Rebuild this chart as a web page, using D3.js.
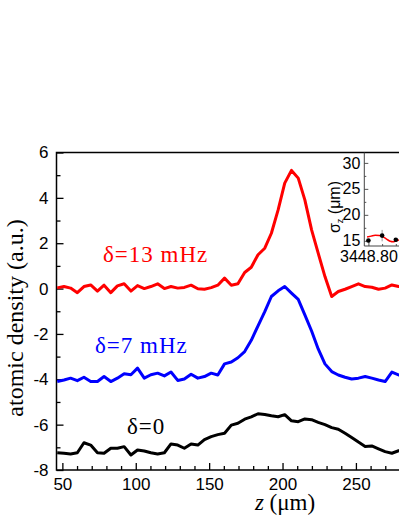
<!DOCTYPE html>
<html>
<head>
<meta charset="utf-8">
<script src="https://cdn.jsdelivr.net/npm/d3@7"></script>
<style>
  body { margin: 0; background: #fff; }
  svg { display: block; }
</style>
</head>
<body>
<div class="graph"></div>
<script>
// axial position (um), shared by the three profiles
var zPos = [46.5, 51.1, 55.6, 60.2, 64.7, 69.3, 73.9, 78.4, 83.0, 87.5,
  92.1, 96.7, 101.2, 105.8, 110.3, 114.9, 119.5, 124.0, 128.6, 133.1,
  137.7, 142.3, 146.8, 151.4, 155.9, 160.5, 165.1, 169.6, 174.2, 178.7,
  183.3, 187.9, 192.4, 197.0, 201.5, 206.1, 210.7, 215.2, 219.8, 224.3,
  228.9, 233.5, 238.0, 242.6, 247.1, 251.7, 256.3, 260.8, 265.4, 269.9,
  274.5, 279.1, 283.6];

var density13 = [0.03, 0.09, 0.02, -0.18, 0.09, 0.16, -0.11, 0.15, -0.18, 0.12,
  0.21, -0.11, 0.13, 0.00, 0.09, 0.21, 0.00, 0.09, 0.02, 0.05,
  0.15, -0.01, -0.03, 0.04, 0.15, 0.46, 0.15, 0.21, 0.71, 0.94,
  1.49, 1.78, 2.44, 3.47, 4.65, 5.21, 4.87, 3.91, 2.59, 1.56,
  0.53, -0.35, -0.13, -0.03, 0.09, 0.21, 0.09, 0.06, -0.03, 0.02,
  0.16, 0.09, 0.05];

var density7 = [-4.10, -4.03, -3.95, -4.06, -3.91, -4.10, -4.10, -3.88, -4.10, -3.95,
  -3.76, -3.80, -3.51, -3.95, -3.80, -3.73, -3.85, -3.68, -4.05, -3.99,
  -3.78, -3.95, -3.88, -3.73, -3.81, -3.32, -3.24, -3.05, -2.78, -2.28,
  -1.64, -1.02, -0.35, -0.10, 0.09, -0.20, -0.48, -1.16, -1.87, -2.66,
  -3.32, -3.66, -3.81, -3.91, -3.99, -3.95, -3.88, -3.95, -4.03, -4.10,
  -3.68, -3.81, -3.85];

var density0 = [-7.24, -7.26, -7.29, -7.24, -6.80, -6.90, -7.24, -7.26, -7.04, -7.04,
  -6.97, -7.34, -7.12, -7.16, -7.24, -7.29, -7.24, -6.85, -6.90, -7.04,
  -6.85, -6.90, -6.66, -6.53, -6.44, -6.38, -6.02, -5.94, -5.76, -5.66,
  -5.52, -5.55, -5.61, -5.65, -5.56, -5.83, -5.87, -5.75, -5.78, -5.90,
  -6.00, -6.13, -6.20, -6.38, -6.57, -6.77, -6.96, -6.94, -7.07, -7.19,
  -7.26, -7.15, -7.10];

var seriesNames = ["\u03b4=13 mHz", "\u03b4=7 mHz", "\u03b4=0"];
var seriesColors = ["#ff0000", "#0000ff", "#000000"];

var yTicks = [-8, -6, -4, -2, 0, 2, 4, 6];
var xTicks = [50, 100, 150, 200, 250];

// inset: sigma_z vs frequency
var insetFreq = [3448.80, 3448.81, 3448.82];
var insetSigma = [15.05, 16.0, 15.2];
var insetErr = [0.3, 1.1, 0.3];
var fitFreq = [3448.799, 3448.802, 3448.805, 3448.808, 3448.811, 3448.814, 3448.816, 3448.818, 3448.820, 3448.823];
var fitSigma = [15.75, 15.9, 16.05, 16.0, 15.7, 15.2, 14.9, 14.8, 14.95, 15.2];
var insetYTicks = [15, 20, 25, 30];
var insetXTicks = [3448.80];

var draw = function() {
  var W = 399, H = 516;
  var sans = "'Liberation Sans', Arial, sans-serif";
  var serif = "'Liberation Serif', 'Times New Roman', serif";

  var svg = d3.select("div.graph").append("svg")
      .attr("width", W)
      .attr("height", H);

  var pLeft = 56.5, pRight = 420.5, pTop = 152.5, pBottom = 470;

  var x = d3.scaleLinear().domain([46, 294]).range([pLeft, pRight]);
  var y = d3.scaleLinear().domain([-8, 6]).range([pBottom, pTop]);

  // clip for the curves
  svg.append("clipPath").attr("id", "plotclip")
    .append("rect")
      .attr("x", pLeft).attr("y", pTop)
      .attr("width", pRight - pLeft).attr("height", pBottom - pTop);

  var main = svg.append("g").attr("class", "main");

  // y axis, ticks pointing inward
  main.append("g")
      .attr("transform", "translate(" + pLeft + ",0)")
      .call(d3.axisLeft(y).tickValues(yTicks).tickSize(-7).tickSizeOuter(0).tickPadding(8)
        .tickFormat(function(d) { return d < 0 ? "-" + Math.abs(d) : d; }));
  main.append("g")
      .attr("transform", "translate(" + pLeft + ",0)")
      .call(d3.axisLeft(y).tickValues(d3.range(-7, 6, 2)).tickSize(-4).tickFormat(""));

  main.append("g")
      .attr("transform", "translate(0," + pBottom + ")")
      .call(d3.axisBottom(x).tickValues(xTicks).tickSize(-7).tickSizeOuter(0).tickPadding(8));
  main.append("g")
      .attr("transform", "translate(0," + pBottom + ")")
      .call(d3.axisBottom(x).tickValues(d3.range(60, 300, 10).filter(function(d) { return d % 50 !== 0; }))
        .tickSize(-4).tickFormat(""));

  main.selectAll(".domain").remove();
  main.selectAll(".tick line").attr("stroke", "#000").attr("stroke-width", 1.3);
  main.selectAll(".tick text")
      .attr("font-family", sans)
      .attr("font-size", 17)
      .attr("fill", "#000");

  // frame
  main.append("path")
      .attr("d", "M" + pRight + "," + pTop + "H" + pLeft + "V" + pBottom + "H" + pRight)
      .attr("fill", "none")
      .attr("stroke", "#000")
      .attr("stroke-width", 1.5);

  // curves
  var allSeries = [density13, density7, density0];
  var line = d3.line()
      .x(function(d, i) { return x(zPos[i]); })
      .y(function(d) { return y(d); });

  main.append("g").attr("clip-path", "url(#plotclip)")
    .selectAll("path")
    .data(allSeries)
    .enter().append("path")
      .attr("d", line)
      .attr("fill", "none")
      .attr("stroke", function(d, i) { return seriesColors[i]; })
      .attr("stroke-width", 3)
      .attr("stroke-linejoin", "round");

  // labels on curves
  var labelPos = [[103, 262], [95, 353], [127, 434]];
  main.selectAll("text.lab")
    .data(seriesNames)
    .enter().append("text")
      .attr("class", "lab")
      .attr("x", function(d, i) { return labelPos[i][0]; })
      .attr("y", function(d, i) { return labelPos[i][1]; })
      .attr("font-family", serif)
      .attr("font-size", 23)
      .attr("letter-spacing", 1)
      .attr("fill", function(d, i) { return seriesColors[i]; })
      .text(function(d) { return d; });

  // axis titles
  main.append("text")
      .attr("transform", "translate(23,318) rotate(-90)")
      .attr("text-anchor", "middle")
      .attr("font-family", serif)
      .attr("font-size", 24)
      .text("atomic density (a.u.)");

  var xt = main.append("text")
      .attr("x", 285)
      .attr("y", 510)
      .attr("text-anchor", "middle")
      .attr("font-family", serif)
      .attr("font-size", 23);
  xt.append("tspan").attr("font-style", "italic").text("z");
  xt.append("tspan").text(" (\u03bcm)");

  // INSET ––––––––––––––––––––––––––––––––––––––––––––––––––––––––––––
  var iLeft = 364.3, iBottom = 246;
  var ix = d3.scaleLinear().domain([3448.797, 3448.837]).range([iLeft, iLeft + 54.8]);
  var iy = d3.scaleLinear().domain([14, 32]).range([iBottom, pTop]);

  var inset = svg.append("g").attr("class", "inset");

  inset.append("g")
      .attr("transform", "translate(" + iLeft + ",0)")
      .call(d3.axisLeft(iy).tickValues(insetYTicks).tickSize(-4).tickSizeOuter(0).tickPadding(4));
  inset.append("g")
      .attr("transform", "translate(" + iLeft + ",0)")
      .call(d3.axisLeft(iy).tickValues([17.5, 22.5, 27.5]).tickSize(-2).tickFormat(""));
  inset.append("g")
      .attr("transform", "translate(0," + iBottom + ")")
      .call(d3.axisBottom(ix).tickValues(insetXTicks).tickSize(-4).tickSizeOuter(0).tickPadding(5)
        .tickFormat(d3.format(".2f")));
  inset.append("g")
      .attr("transform", "translate(0," + iBottom + ")")
      .call(d3.axisBottom(ix).tickValues([3448.81, 3448.82, 3448.83]).tickSize(-2).tickFormat(""));

  inset.selectAll(".domain").remove();
  inset.selectAll(".tick line").attr("stroke", "#555").attr("stroke-width", 1);
  inset.selectAll(".tick text")
      .attr("font-family", sans)
      .attr("font-size", 16)
      .attr("fill", "#000");

  inset.append("path")
      .attr("d", "M" + iLeft + "," + pTop + "V" + iBottom + "H" + W)
      .attr("fill", "none")
      .attr("stroke", "#444")
      .attr("stroke-width", 1);

  var fitLine = d3.line()
      .curve(d3.curveMonotoneX)
      .x(function(d, i) { return ix(fitFreq[i]); })
      .y(function(d) { return iy(d); });

  inset.append("path")
      .attr("d", fitLine(fitSigma))
      .attr("fill", "none")
      .attr("stroke", "#ff0000")
      .attr("stroke-width", 1.5);

  inset.selectAll("line.err")
    .data(insetSigma)
    .enter().append("line")
      .attr("class", "err")
      .attr("x1", function(d, i) { return ix(insetFreq[i]); })
      .attr("x2", function(d, i) { return ix(insetFreq[i]); })
      .attr("y1", function(d, i) { return iy(d - insetErr[i]); })
      .attr("y2", function(d, i) { return iy(d + insetErr[i]); })
      .attr("stroke", "#999")
      .attr("stroke-width", 1);

  inset.selectAll("circle")
    .data(insetSigma)
    .enter().append("circle")
      .attr("cx", function(d, i) { return ix(insetFreq[i]); })
      .attr("cy", function(d) { return iy(d); })
      .attr("r", 2.3)
      .attr("fill", "#000");

  var it = inset.append("text")
      .attr("transform", "translate(340,207) rotate(-90)")
      .attr("text-anchor", "middle")
      .attr("font-family", sans)
      .attr("font-size", 16);
  it.append("tspan").text("\u03c3");
  it.append("tspan").attr("font-size", 9).attr("dy", 3).text("z");
  it.append("tspan").attr("dy", -3).text(" (\u03bcm)");
};

draw();
</script>
</body>
</html>
